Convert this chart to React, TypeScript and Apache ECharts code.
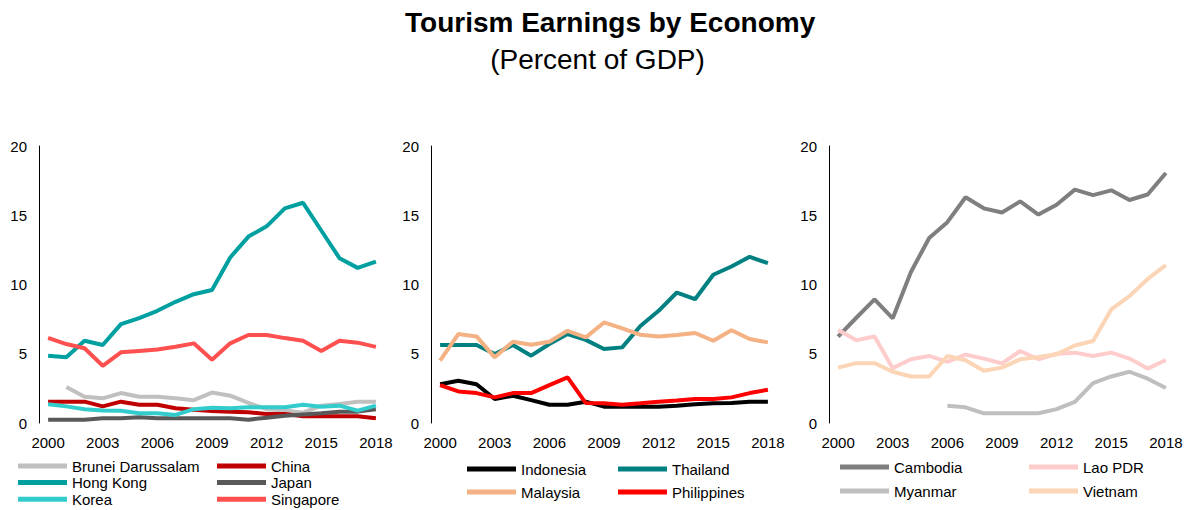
import React, { useEffect, useRef } from "react";
import * as echarts from "echarts";

const years = ["2000","2001","2002","2003","2004","2005","2006","2007","2008","2009","2010","2011","2012","2013","2014","2015","2016","2017","2018"];

// Panel 1
const brunei = [null, 2.6, 1.9, 1.78, 2.16, 1.9, 1.9, 1.78, 1.65, 2.2, 1.97, 1.45, 1.0, 0.9, 0.75, 1.25, 1.37, 1.54, 1.54];
const china = [1.54, 1.54, 1.54, 1.2, 1.54, 1.32, 1.32, 1.06, 0.96, 0.87, 0.82, 0.77, 0.65, 0.65, 0.48, 0.48, 0.48, 0.48, 0.34];
const hongKong = [4.86, 4.74, 5.94, 5.63, 7.14, 7.57, 8.1, 8.75, 9.3, 9.6, 11.95, 13.46, 14.2, 15.5, 15.9, 13.9, 11.9, 11.2, 11.65];
const japan = [0.24, 0.24, 0.24, 0.34, 0.34, 0.41, 0.34, 0.34, 0.34, 0.34, 0.34, 0.24, 0.38, 0.53, 0.62, 0.7, 0.82, 0.82, 1.0];
const korea = [1.35, 1.2, 1.0, 0.91, 0.89, 0.7, 0.7, 0.58, 1.0, 1.1, 1.06, 1.13, 1.13, 1.13, 1.32, 1.18, 1.25, 0.89, 1.25];
const singapore = [6.15, 5.7, 5.4, 4.13, 5.1, 5.2, 5.3, 5.5, 5.75, 4.57, 5.75, 6.35, 6.35, 6.13, 5.94, 5.2, 5.94, 5.8, 5.5];

// Panel 2
const indonesia = [2.8, 3.05, 2.8, 1.73, 1.97, 1.65, 1.32, 1.32, 1.54, 1.18, 1.18, 1.18, 1.18, 1.25, 1.35, 1.42, 1.44, 1.54, 1.54];
const thailand = [5.63, 5.63, 5.63, 4.98, 5.63, 4.86, 5.7, 6.42, 6.0, 5.34, 5.46, 7.0, 8.1, 9.42, 8.94, 10.7, 11.3, 12.0, 11.54];
const malaysia = [4.5, 6.42, 6.25, 4.74, 5.87, 5.65, 5.87, 6.66, 6.18, 7.26, 6.83, 6.37, 6.25, 6.35, 6.5, 5.94, 6.7, 6.06, 5.82];
const philippines = [2.74, 2.28, 2.16, 1.85, 2.16, 2.16, 2.74, 3.29, 1.44, 1.42, 1.32, 1.42, 1.54, 1.63, 1.73, 1.73, 1.85, 2.16, 2.4];

// Panel 3
const cambodia = [6.24, 7.6, 8.93, 7.56, 10.9, 13.36, 14.5, 16.3, 15.5, 15.2, 16.0, 15.05, 15.76, 16.85, 16.45, 16.8, 16.1, 16.5, 18.05];
const laoPDR = [6.72, 5.97, 6.24, 3.96, 4.6, 4.84, 4.41, 4.94, 4.65, 4.3, 5.2, 4.6, 5.0, 5.08, 4.84, 5.08, 4.65, 3.93, 4.55];
const myanmar = [null, null, null, null, null, null, 1.25, 1.13, 0.7, 0.7, 0.7, 0.7, 1.0, 1.53, 2.88, 3.36, 3.7, 3.2, 2.52];
const vietnam = [4.0, 4.32, 4.32, 3.7, 3.36, 3.36, 4.84, 4.53, 3.77, 4.0, 4.6, 4.77, 4.96, 5.6, 5.92, 8.2, 9.16, 10.4, 11.4];

const yTicks = [0, 5, 10, 15, 20];

const FONT = "Liberation Sans, Arial, sans-serif";

export default function App() {
  const ref = useRef<HTMLDivElement>(null);
  useEffect(() => {
    document.body.style.margin = "0";
    const chart = echarts.init(ref.current!, null, { renderer: "svg" });

    const grids = [
      { left: 39, top: 146, width: 346, height: 277 },
      { left: 431, top: 146, width: 346, height: 277 },
      { left: 829, top: 146, width: 346, height: 277 },
    ];

    const xAxes = grids.map((_, i) => ({
      type: "category",
      gridIndex: i,
      data: years,
      boundaryGap: true,
      axisLine: { show: false },
      axisTick: { show: false },
      axisLabel: { interval: 2, color: "#000", fontSize: 15, fontFamily: FONT, margin: 12 },
      splitLine: { show: false },
    }));

    const yAxes = grids.map((_, i) => ({
      type: "value",
      gridIndex: i,
      min: yTicks[0],
      max: yTicks[yTicks.length - 1],
      interval: 5,
      axisLine: { show: true, lineStyle: { color: "#000", width: 1 } },
      axisTick: { show: false },
      splitLine: { show: false },
      axisLabel: { color: "#000", fontSize: 15, fontFamily: FONT, margin: 12 },
    }));

    const mk = (name: string, data: (number | null)[], color: string, idx: number) => ({
      name,
      type: "line",
      data,
      xAxisIndex: idx,
      yAxisIndex: idx,
      showSymbol: false,
      symbol: "none",
      connectNulls: false,
      lineStyle: { color, width: 4 },
      itemStyle: { color },
      emphasis: { disabled: true },
    });

    const series = [
      mk("Brunei Darussalam", brunei, "#c0c0c0", 0),
      mk("China", china, "#c00000", 0),
      mk("Hong Kong", hongKong, "#00a0a0", 0),
      mk("Japan", japan, "#595959", 0),
      mk("Korea", korea, "#33cccc", 0),
      mk("Singapore", singapore, "#ff5050", 0),
      mk("Indonesia", indonesia, "#000000", 1),
      mk("Thailand", thailand, "#008080", 1),
      mk("Malaysia", malaysia, "#f4b183", 1),
      mk("Philippines", philippines, "#ff0000", 1),
      mk("Cambodia", cambodia, "#7f7f7f", 2),
      mk("Lao PDR", laoPDR, "#ffcccc", 2),
      mk("Myanmar", myanmar, "#bfbfbf", 2),
      mk("Vietnam", vietnam, "#fbd5b5", 2),
    ];

    const lg = (data: string[], left: number, top: number, gap: number) => ({
      orient: "vertical",
      left,
      top,
      data,
      icon: "rect",
      itemWidth: 49,
      itemHeight: 5,
      itemGap: gap,
      padding: 0,
      selectedMode: false,
      textStyle: { color: "#000", fontSize: 15, fontFamily: FONT, lineHeight: 16, padding: [0, 0, 0, 0] },
    });

    chart.setOption({
      animation: false,
      backgroundColor: "#fff",
      title: [
        {
          text: "Tourism Earnings by Economy",
          left: 400,
          top: 3,
          textStyle: { fontSize: 28, fontWeight: "bold", color: "#000", fontFamily: FONT },
        },
        {
          text: "(Percent of GDP)",
          left: "center",
          top: 40,
          textStyle: { fontSize: 28, fontWeight: "normal", color: "#000", fontFamily: FONT },
        },
      ],
      grid: grids,
      xAxis: xAxes,
      yAxis: yAxes,
      legend: [
        lg(["Brunei Darussalam", "Hong Kong", "Korea"], 18, 458, 0.6),
        lg(["China", "Japan", "Singapore"], 217, 458, 0.6),
        lg(["Indonesia", "Malaysia"], 467, 461, 7),
        lg(["Thailand", "Philippines"], 618, 461, 7),
        lg(["Cambodia", "Myanmar"], 840, 459, 8),
        lg(["Lao PDR", "Vietnam"], 1029, 459, 8),
      ],
      series,
    });
    return () => chart.dispose();
  }, []);
  return <div ref={ref} style={{ width: 1195, height: 510 }} />;
}
